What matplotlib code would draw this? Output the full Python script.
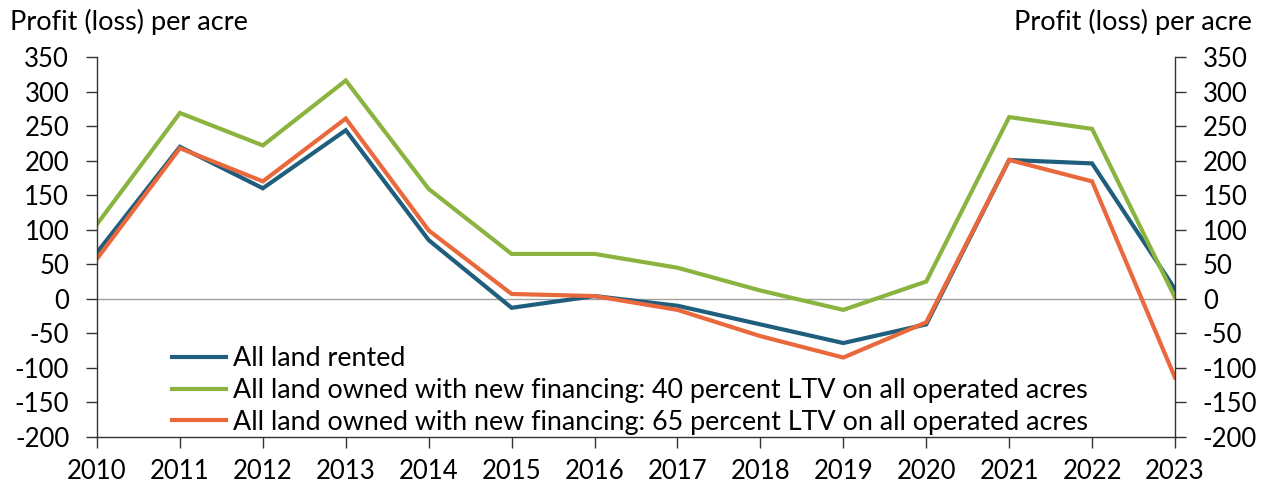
import matplotlib
matplotlib.use("Agg")
import matplotlib.pyplot as plt

years = list(range(2010, 2024))
rented = [67, 220, 160, 244, 85, -13, 4, -10, -37, -64, -37, 201, 196, 14]
own40 = [108, 269, 222, 316, 159, 65, 65, 45, 12, -16, 25, 263, 246, 2]
own65 = [58, 218, 170, 261, 99, 7, 4, -16, -54, -85, -34, 201, 170, -114]
labels = ["All land rented",
          "All land owned with new financing: 40 percent LTV on all operated acres",
          "All land owned with new financing: 65 percent LTV on all operated acres"]
colors = ["#1f5e7c", "#8ab43f", "#e9683c"]
yticks = list(range(-200, 351, 50))

plt.rcParams['font.family'] = ['Lato', 'DejaVu Sans']
fig = plt.figure(figsize=(12.65, 4.86), dpi=100)
ax = fig.add_axes([97/1265, 1-437/486, (1175-97)/1265, (437-57)/486])

for vals, lab, c in zip([rented, own40, own65], labels, colors):
    ax.plot(years, vals, color=c, lw=3, label=lab, solid_joinstyle='miter')

ax.axhline(0, color='#a0a0a0', lw=1, zorder=0)
ax.set_xlim(2010, 2023)
ax.set_ylim(-200, 350)
ax.set_xticks(years)
ax.set_xticklabels([str(y) for y in years])
ax.set_yticks(yticks)
ax.set_yticklabels([str(v) for v in yticks])
ax.tick_params(axis='y', which='both', left=True, right=True, labelleft=True,
               labelright=True, direction='out', length=8, width=1, labelsize=18.5,
               color='#333333', pad=12)
ax.tick_params(axis='x', direction='out', length=8, width=1, labelsize=18.5,
               color='#333333', pad=8)
ax.spines['top'].set_visible(False)
for s in ['left', 'right', 'bottom']:
    ax.spines[s].set_color('#333333')
    ax.spines[s].set_linewidth(1)

fig.text(10/1265, 1-22/486, "Profit (loss) per acre", fontsize=19.5, ha='left', va='center')
fig.text(1252/1265, 1-22/486, "Profit (loss) per acre", fontsize=19.5, ha='right', va='center')

leg = ax.legend(loc='lower left', bbox_to_anchor=(0.055, -0.037), frameon=False,
                fontsize=19.4, handlelength=2.0, handletextpad=0.25, labelspacing=0.25,
                borderaxespad=0.2)

fig.savefig("out.png", dpi=100)
